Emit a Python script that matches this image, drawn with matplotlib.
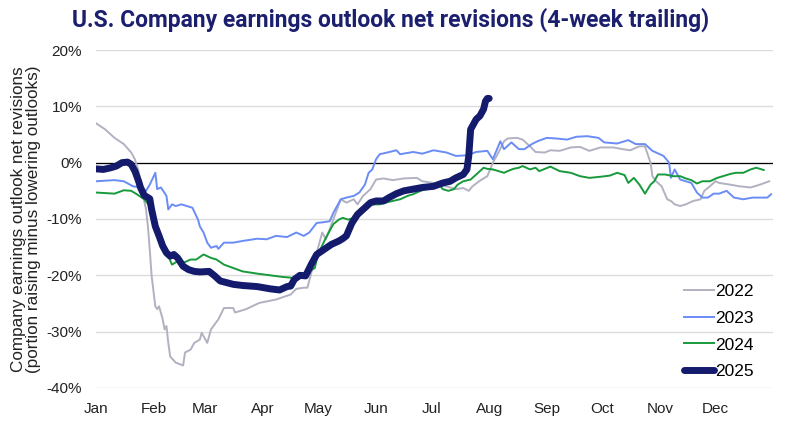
import matplotlib
matplotlib.use("Agg")
import matplotlib.pyplot as plt
from matplotlib.ticker import FuncFormatter

# day of year / value (%)
days_2022 = [0, 5, 10, 15, 19, 21, 23, 25, 27, 28, 29, 30, 32, 33, 34, 36, 37, 38, 39, 40,
             43, 47, 48, 51, 53, 56, 57, 60, 62, 66, 69, 74, 75, 81, 88, 97, 105, 108, 112, 114,
             117, 122, 124, 126, 132, 135, 139, 141, 144, 148, 151, 155, 160, 166, 173, 176, 182, 185, 191, 194,
             198, 201, 203, 207, 211, 214, 217, 220, 222, 227, 230, 234, 237, 242, 245, 250, 256, 261, 266, 272,
             279, 284, 288, 293, 296, 299, 300, 302, 305, 308, 310, 312, 315, 318, 322, 326, 328, 331, 334, 336,
             342, 347, 353, 358, 363]
vals_2022 = [7.0, 5.9, 4.4, 3.3, 1.8, 0.6, -1.5, -5.3, -8.3, -11.3, -15.4, -20.1, -25.5, -26.0, -25.5, -27.8, -29.6, -29.0, -32.0, -34.4,
             -35.5, -36.0, -33.7, -33.2, -32.0, -31.4, -30.2, -32.0, -29.6, -27.8, -25.8, -25.8, -26.6, -26.0, -24.9, -24.3, -23.4, -22.4, -22.2, -22.2,
             -18.4, -12.4, -13.6, -11.8, -6.5, -7.1, -6.5, -7.4, -5.9, -4.7, -3.0, -2.8, -3.1, -2.8, -2.7, -3.3, -3.6, -3.9, -4.4, -4.7,
             -4.5, -5.0, -4.2, -3.2, -2.4, 0.0, 1.8, 3.8, 4.3, 4.4, 4.1, 2.9, 1.9, 1.8, 2.2, 2.1, 2.7, 2.8, 2.1, 2.7,
             2.7, 2.4, 2.2, 2.9, 2.9, 0.0, -2.4, -3.3, -4.2, -6.5, -6.8, -7.4, -7.7, -7.4, -6.8, -6.5, -5.0, -4.2, -3.3, -3.6,
             -3.9, -4.2, -4.4, -3.9, -3.3]

days_2023 = [0, 10, 15, 20, 24, 27, 29, 32, 33, 35, 38, 39, 41, 43, 46, 49, 52, 55, 56, 58,
             60, 62, 65, 66, 69, 74, 79, 87, 92, 97, 103, 108, 112, 115, 119, 122, 126, 128, 132, 135,
             139, 142, 145, 147, 149, 151, 153, 157, 162, 164, 171, 176, 182, 189, 194, 200, 205, 211, 214, 218,
             220, 224, 228, 231, 235, 238, 243, 248, 254, 259, 265, 271, 274, 281, 287, 291, 296, 300, 302, 306,
             309, 310, 312, 315, 318, 321, 324, 327, 330, 333, 336, 340, 344, 349, 354, 362, 364]
vals_2023 = [-3.3, -3.1, -3.3, -4.2, -4.4, -5.0, -3.9, -1.8, -4.7, -4.4, -5.9, -8.3, -7.4, -7.7, -7.4, -7.7, -8.0, -10.1, -11.3, -12.4,
             -14.2, -15.1, -14.8, -15.3, -14.2, -14.2, -13.9, -13.5, -13.6, -13.0, -13.2, -12.4, -13.0, -12.4, -10.7, -10.6, -10.4, -8.9, -6.5, -6.2,
             -5.9, -5.3, -3.9, -1.8, -1.2, 0.6, 1.5, 1.8, 2.2, 1.5, 1.9, 1.6, 2.2, 1.8, 1.2, 1.3, 1.9, 2.1, 0.6, 3.8,
             2.4, 3.6, 2.4, 2.4, 3.3, 3.8, 4.4, 4.3, 4.1, 4.6, 4.7, 4.4, 3.6, 3.4, 4.0, 3.3, 3.3, 2.1, 1.8, 1.2,
             0.0, -2.7, -1.2, -3.0, -3.3, -3.6, -5.3, -6.2, -6.2, -5.5, -5.5, -5.0, -6.2, -6.5, -6.2, -6.2, -5.6]

days_2024 = [0, 10, 15, 19, 22, 26, 29, 31, 33, 35, 37, 39, 41, 44, 47, 51, 54, 58, 62, 65,
             69, 74, 79, 87, 94, 101, 105, 107, 110, 114, 118, 119, 121, 124, 128, 131, 133, 136, 139, 142,
             146, 149, 153, 156, 160, 164, 168, 171, 175, 178, 182, 185, 187, 190, 193, 195, 198, 202, 205, 209,
             211, 214, 217, 220, 222, 225, 228, 230, 234, 237, 239, 245, 250, 256, 261, 266, 272, 277, 281, 285,
             287, 290, 293, 296, 299, 301, 303, 307, 311, 315, 318, 321, 324, 327, 331, 335, 338, 342, 345, 349,
             353, 356, 360]
vals_2024 = [-5.3, -5.5, -4.9, -5.0, -5.6, -6.5, -7.7, -9.5, -11.3, -13.0, -14.8, -16.6, -18.1, -17.5, -17.8, -17.2, -17.2, -16.3, -16.9, -17.2,
             -18.1, -18.7, -19.3, -19.7, -20.0, -20.3, -20.4, -21.0, -19.8, -19.5, -18.7, -17.2, -15.4, -13.3, -10.9, -10.1, -9.8, -10.1, -9.8, -8.9,
             -7.7, -7.4, -7.4, -7.1, -6.8, -6.5, -5.9, -5.6, -5.0, -4.7, -4.2, -3.9, -4.7, -5.0, -4.7, -3.9, -3.3, -3.0, -2.1, -0.9,
             -1.1, -1.2, -1.5, -1.8, -1.5, -1.1, -0.9, -0.6, -1.2, -0.9, -1.5, -0.7, -1.5, -1.8, -2.4, -2.7, -2.5, -2.3, -1.8, -2.2,
             -3.6, -2.7, -3.9, -5.5, -3.9, -3.3, -2.1, -2.1, -2.4, -2.4, -2.8, -3.1, -3.7, -3.3, -3.3, -2.7, -2.4, -2.0, -1.8, -1.8,
             -1.2, -0.9, -1.3]

days_2025 = [0, 4, 8, 11, 14, 17, 19, 21, 23, 24, 26, 29, 30, 32, 34, 36, 38, 40, 42, 44,
             47, 50, 53, 56, 61, 64, 67, 74, 79, 87, 94, 99, 103, 105, 107, 110, 113, 116, 119, 123,
             127, 131, 133, 135, 138, 141, 144, 148, 151, 155, 158, 162, 166, 171, 176, 182, 187, 191, 194, 198,
             200, 201, 202, 203, 205, 207, 209, 210, 211, 212]
vals_2025 = [-1.1, -1.2, -0.9, -0.6, 0.0, 0.1, -0.3, -1.5, -3.3, -4.4, -5.8, -6.4, -8.3, -11.3, -13.0, -14.8, -16.0, -16.6, -16.3, -16.9,
             -18.4, -19.0, -19.3, -19.4, -19.3, -20.1, -21.0, -21.6, -21.8, -22.0, -22.4, -22.6, -22.0, -21.9, -20.7, -20.0, -20.1, -18.1, -16.3, -15.4,
             -14.5, -13.9, -13.5, -13.0, -10.7, -9.2, -8.3, -7.1, -6.8, -6.8, -6.2, -5.5, -5.0, -4.7, -4.4, -4.2, -3.6, -3.3, -2.7, -2.1,
             -1.2, 1.2, 5.9, 6.5, 7.7, 8.3, 9.5, 10.9, 11.4, 11.4]

month_starts = [0, 31, 59, 90, 120, 151, 181, 212, 243, 273, 304, 334]
month_labels = ['Jan', 'Feb', 'Mar', 'Apr', 'May', 'Jun', 'Jul', 'Aug', 'Sep', 'Oct', 'Nov', 'Dec']
y_ticks = [-40, -30, -20, -10, 0, 10, 20]

plt.rcParams['font.family'] = ['Liberation Sans', 'DejaVu Sans']

fig = plt.figure(figsize=(7.86, 4.30), dpi=100)
ax = fig.add_axes([0.1221, 0.0977, 0.8613, 0.786])

ax.plot(days_2022, vals_2022, color='#b2b1c1', lw=1.4, label='2022')
ax.plot(days_2023, vals_2023, color='#6a8cf6', lw=1.4, label='2023')
ax.plot(days_2024, vals_2024, color='#179a3b', lw=1.4, label='2024')
ax.plot(days_2025, vals_2025, color='#141b6c', lw=5.0, label='2025',
        solid_capstyle='round', solid_joinstyle='round')

ax.axhline(0, color='black', lw=0.9, zorder=1)
ax.set_xlim(0, 365)
ax.set_ylim(-40, 20)
ax.set_yticks(y_ticks)
ax.yaxis.set_major_formatter(FuncFormatter(lambda v, p: f'{v:.0f}%'))
ax.set_xticks(month_starts)
ax.set_xticklabels(month_labels)
ax.grid(axis='y', color='#dcdcdc', lw=1.0, zorder=0)
ax.set_axisbelow(True)
for s in ax.spines.values():
    s.set_visible(False)
ax.tick_params(length=0, labelsize=11, colors='#222222')
ax.tick_params(axis='y', pad=10)
ax.tick_params(axis='x', pad=10)

ax.set_ylabel('Company earnings outlook net revisions\n(portion raising minus lowering outlooks)',
              fontsize=12.3, color='#222222', labelpad=4, linespacing=1.0)

leg = ax.legend(loc='lower right', frameon=False, fontsize=12.5, handlelength=1.7,
                handletextpad=0.1, labelspacing=0.66, bbox_to_anchor=(0.995, -0.02))

fig.text(0.497, 0.955, 'U.S. Company earnings outlook net revisions (4-week trailing)',
         ha='center', va='center', fontsize=16.5, fontweight='bold', color='#1b1f6e',
         family=['Roboto', 'DejaVu Sans'])

fig.savefig('out.png', dpi=100)
